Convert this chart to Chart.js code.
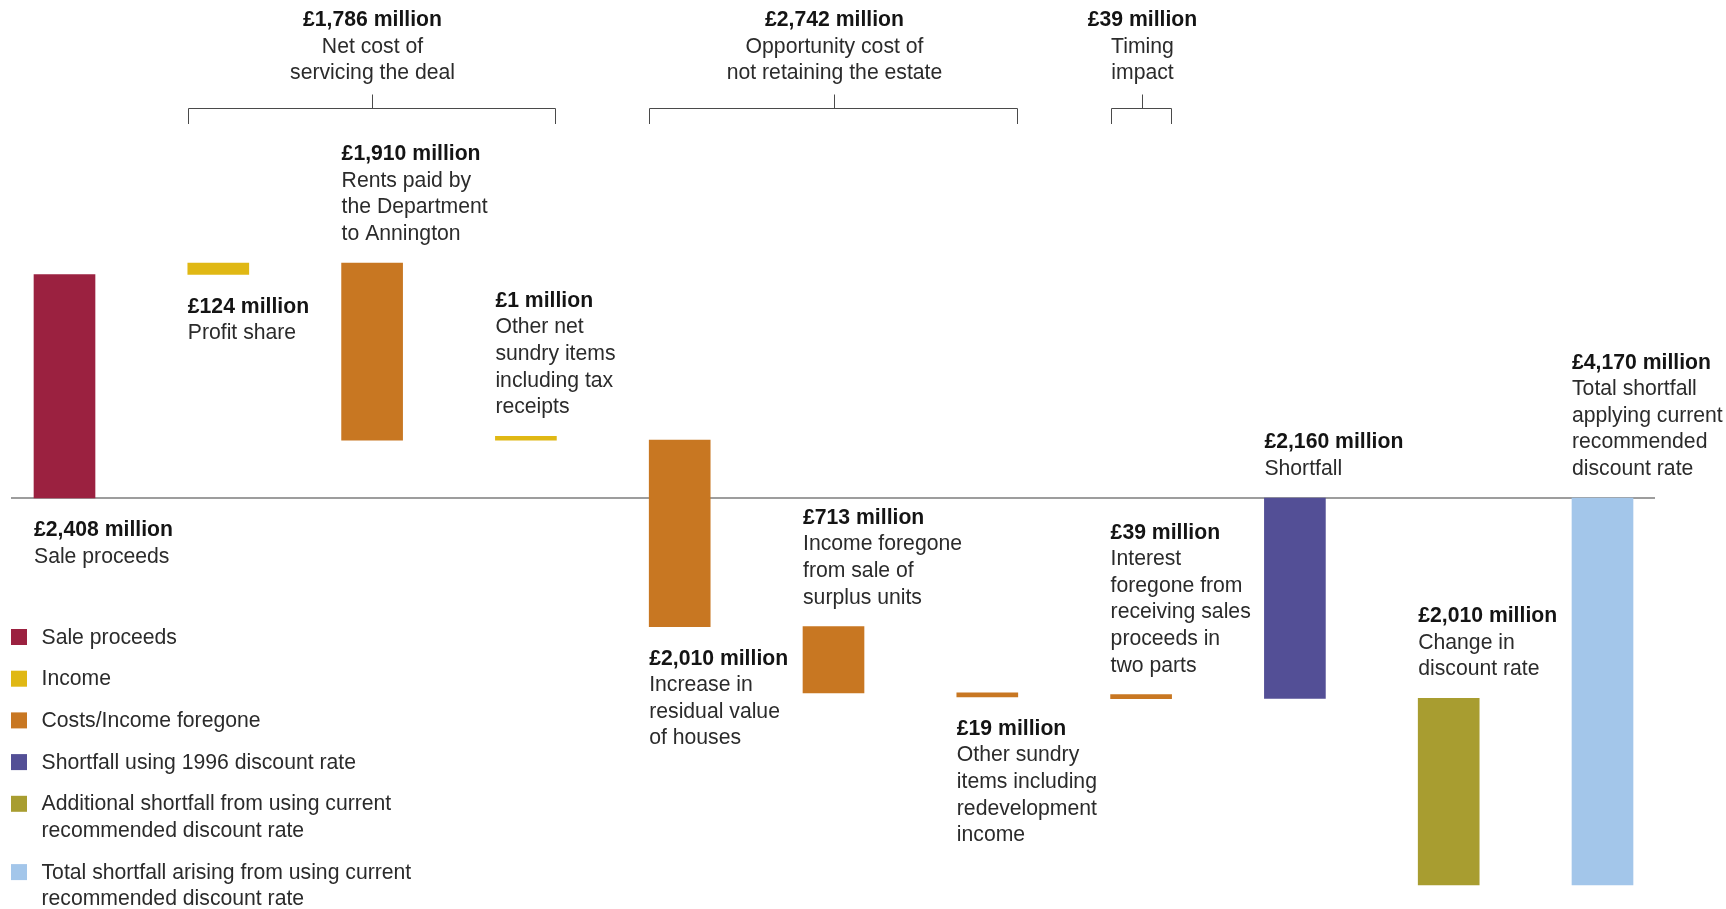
<!DOCTYPE html>
<html>
<head>
<meta charset="utf-8">
<title>Sale proceeds and shortfall</title>
<script src="https://cdn.jsdelivr.net/npm/chart.js@4"></script>
<style>
  body { margin: 0; background: #fff; }
  #wrap { position: relative; width: 1726px; height: 909px; }
</style>
</head>
<body>
<div id="wrap"><canvas id="shortfallChart"></canvas></div>
<script>
// All values in £ million
const steps = ['Sale proceeds', 'Profit share', 'Rents paid', 'Other net sundry items', 'Residual value',
  'Surplus units', 'Other sundry items', 'Interest foregone', 'Shortfall', 'Change in discount rate', 'Total shortfall'];
const amounts = [2408, 124, 1910, 1, 2010, 713, 19, 39, 2160, 2010, 4170];
// how each step moves the running total
const moves = ['start', 'up', 'down', 'up', 'down', 'down', 'down', 'down', 'total', 'down', 'total'];
const kinds = ['sale', 'income', 'cost', 'income', 'cost', 'cost', 'cost', 'cost', 'shortfall', 'extra', 'total'];
const descriptions = [
  ['Sale proceeds'],
  ['Profit share'],
  ['Rents paid by', 'the Department', 'to Annington'],
  ['Other net', 'sundry items', 'including tax', 'receipts'],
  ['Increase in', 'residual value', 'of houses'],
  ['Income foregone', 'from sale of', 'surplus units'],
  ['Other sundry', 'items including', 'redevelopment', 'income'],
  ['Interest', 'foregone from', 'receiving sales', 'proceeds in', 'two parts'],
  ['Shortfall'],
  ['Change in', 'discount rate'],
  ['Total shortfall', 'applying current', 'recommended', 'discount rate']
];

// bracketed groups of steps
const groupTotals = [1786, 2742, 39];
const groupNames = [['Net cost of', 'servicing the deal'], ['Opportunity cost of', 'not retaining the estate'], ['Timing', 'impact']];
const groupFirst = [1, 4, 7];
const groupLast = [3, 6, 7];

const legendKinds = ['sale', 'income', 'cost', 'shortfall', 'extra', 'total'];
const legendLabels = [
  ['Sale proceeds'],
  ['Income'],
  ['Costs/Income foregone'],
  ['Shortfall using 1996 discount rate'],
  ['Additional shortfall from using current', 'recommended discount rate'],
  ['Total shortfall arising from using current', 'recommended discount rate']
];

const colours = {
  sale: '#9b2140',
  income: '#e0b814',
  cost: '#c87722',
  shortfall: '#534f96',
  extra: '#a89d30',
  total: '#a3c6ea'
};

// which side of its bar each label sits on
const labelSide = ['below', 'below', 'above', 'above', 'below', 'above', 'below', 'above', 'above', 'above', 'above'];

// waterfall: turn step amounts into floating [from, to] bars
let running = 0;
const ranges = amounts.map((v, i) => {
  let r;
  if (moves[i] === 'start') { r = [0, v]; running = v; }
  else if (moves[i] === 'up') { r = [running, running + v]; running += v; }
  else if (moves[i] === 'down') { r = [running, running - v]; running -= v; }
  else { r = [0, -v]; running = -v; }
  return r;
});

const money = v => '£' + v.toLocaleString('en-GB') + ' million';

const FONT = '"Liberation Sans", Arial, sans-serif';
const BOLD = 'bold 21.2px ' + FONT;
const REG = '21.2px ' + FONT;
const LH = 26.6;

function textLines(ctx, lines, x, y, align) {
  ctx.textAlign = align || 'left';
  ctx.textBaseline = 'alphabetic';
  lines.forEach((t, j) => {
    ctx.font = j === 0 ? BOLD : REG;
    ctx.fillStyle = j === 0 ? '#141414' : '#2b2b2b';
    ctx.fillText(t, x, y + j * LH);
  });
}

const annotate = {
  id: 'annotate',
  beforeDatasetsDraw(chart) {
    const ctx = chart.ctx;
    const bars = chart.getDatasetMeta(0).data;
    const y0 = Math.round(chart.scales.y.getPixelForValue(0));
    const first = bars[0], last = bars[bars.length - 1];
    ctx.save();
    ctx.strokeStyle = '#7d7d7d';
    ctx.lineWidth = 1.6;
    ctx.beginPath();
    ctx.moveTo(first.x - first.width / 2 - 23, y0);
    ctx.lineTo(last.x + last.width / 2 + 22, y0);
    ctx.stroke();
    ctx.restore();
  },
  afterDatasetsDraw(chart) {
    const ctx = chart.ctx;
    const bars = chart.getDatasetMeta(0).data;
    ctx.save();

    // value + description next to each bar
    bars.forEach((el, i) => {
      const left = el.x - el.width / 2;
      const top = Math.min(el.y, el.base);
      const bottom = Math.max(el.y, el.base);
      const lines = [money(amounts[i])].concat(descriptions[i]);
      const y = labelSide[i] === 'above' ? top - 23 - (lines.length - 1) * LH : bottom + 38;
      textLines(ctx, lines, left, y);
    });

    // brackets over the grouped steps
    const by = 108.5;
    ctx.strokeStyle = '#4a4a4a';
    ctx.lineWidth = 1;
    groupTotals.forEach((total, g) => {
      const a = bars[groupFirst[g]], b = bars[groupLast[g]];
      const l = Math.round(a.x - a.width / 2) + 0.5;
      const r = Math.round(b.x + b.width / 2) - 0.5;
      const m = Math.round((l + r) / 2) + 0.5;
      ctx.beginPath();
      ctx.moveTo(l, by + 15.5);
      ctx.lineTo(l, by);
      ctx.lineTo(r, by);
      ctx.lineTo(r, by + 15.5);
      ctx.moveTo(m, by);
      ctx.lineTo(m, by - 14);
      ctx.stroke();
      textLines(ctx, [money(total)].concat(groupNames[g]), m, 26, 'center');
    });

    // legend, bottom left
    let ly = 629;
    legendKinds.forEach((k, i) => {
      ctx.fillStyle = colours[k];
      ctx.fillRect(11, ly, 16, 16);
      ctx.font = REG;
      ctx.fillStyle = '#2b2b2b';
      ctx.textAlign = 'left';
      legendLabels[i].forEach((t, j) => ctx.fillText(t, 41.5, ly + 14.5 + j * LH));
      ly += 41.7 + (legendLabels[i].length - 1) * LH;
    });
    ctx.restore();
  }
};

new Chart(document.getElementById('shortfallChart'), {
  type: 'bar',
  data: {
    labels: steps,
    datasets: [{
      data: ranges,
      backgroundColor: kinds.map(k => colours[k]),
      barThickness: 61,
      minBarLength: 4,
      clip: false
    }]
  },
  options: {
    responsive: true,
    maintainAspectRatio: false,
    animation: false,
    events: [],
    layout: { padding: { left: 64.5, right: 123.5, top: 0, bottom: 0 } },
    plugins: {
      legend: { display: false },
      tooltip: { enabled: false }
    },
    scales: {
      x: { display: false, offset: false, grid: { display: false } },
      y: { display: false, min: -4429, max: 5366 }
    }
  },
  plugins: [annotate]
});
</script>
</body>
</html>
